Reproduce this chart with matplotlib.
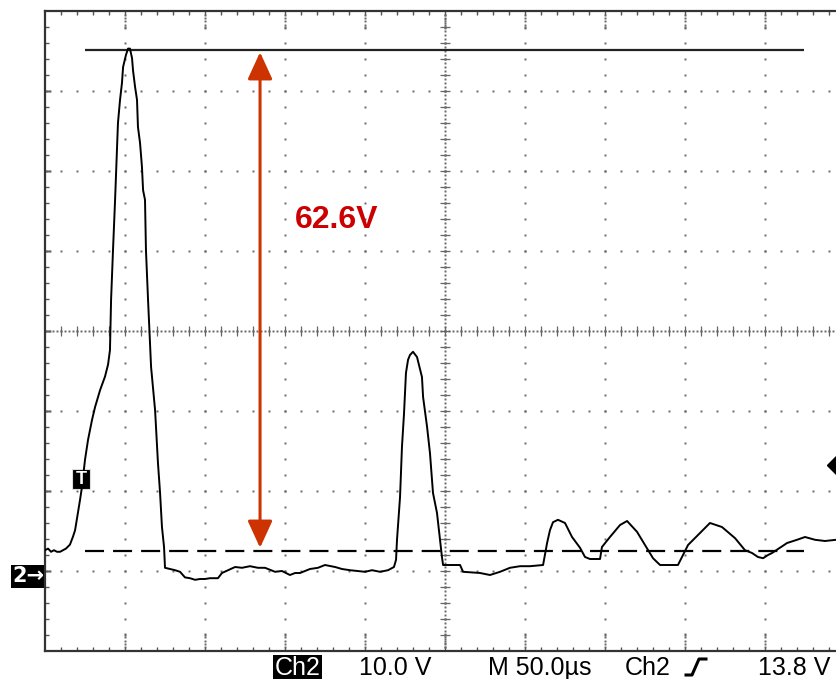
import numpy as np
import matplotlib.pyplot as plt
from matplotlib.patches import Rectangle
from matplotlib.lines import Line2D
from matplotlib.transforms import blended_transform_factory

plt.rcParams['font.family'] = ['Liberation Sans', 'DejaVu Sans']

# Ch2 trace: time (us) and volts (ground = 0 V)
t_us = [0.0, 1.9, 3.8, 5.6, 7.5, 9.4, 11.3, 13.1, 15.6, 17.5, 18.8, 20.6,
        21.9, 23.1, 25.0, 26.9, 29.4, 31.3, 34.4, 37.5, 39.4, 40.6, 41.3,
        42.5, 43.8, 45.0, 45.6, 46.9, 48.1, 48.8, 50.6, 51.9, 53.1, 54.4,
        55.0, 56.3, 57.5, 58.1, 59.4, 60.6, 61.3, 62.5, 63.1, 64.4, 66.3,
        68.8, 70.6, 71.9, 73.1, 74.4, 75.0, 81.3, 84.4, 87.5, 90.6, 93.8,
        96.9, 100.0, 103.1, 108.1, 110.6, 114.4, 118.8, 123.1, 128.1, 133.1,
        137.5, 143.8, 148.1, 153.1, 156.3, 159.4, 165.6, 170.6, 175.0, 181.3,
        185.6, 190.6, 195.6, 200.0, 204.4, 209.4, 214.4, 218.1, 219.4, 220.0,
        221.9, 223.1, 224.4, 225.6, 226.9, 228.1, 230.0, 232.5, 235.6, 236.3,
        238.8, 240.6, 242.5, 245.0, 246.9, 248.1, 248.8, 259.4, 261.3, 271.9,
        278.1, 284.4, 290.6, 296.9, 303.1, 311.3, 313.8, 315.6, 317.5, 320.6,
        325.0, 329.4, 334.4, 337.5, 340.6, 346.9, 348.1, 353.1, 359.4, 363.8,
        370.0, 375.0, 380.0, 384.4, 395.6, 401.9, 409.4, 415.6, 423.1, 431.3,
        437.5, 441.9, 445.6, 448.8, 451.9, 454.4, 463.8, 470.0, 475.0, 481.3,
        487.5, 494.4]
ch2_v = [3.1, 3.3, 2.9, 3.1, 2.9, 2.9, 3.1, 3.3, 3.8, 4.8, 5.6, 7.8,
         9.4, 11.0, 14.4, 16.9, 19.4, 21.0, 23.1, 24.8, 26.3, 28.1, 34.4,
         40.6, 46.9, 53.1, 56.5, 59.4, 61.5, 63.5, 65.0, 65.8, 65.8, 64.6,
         63.1, 61.0, 59.4, 56.0, 54.0, 51.0, 48.1, 46.9, 40.6, 34.4, 26.0,
         20.6, 14.0, 10.3, 6.0, 3.5, 0.9, 0.6, 0.4, -0.3, -0.4, -0.6,
         -0.5, -0.5, -0.4, -0.4, 0.25, 0.6, 1.0, 0.9, 1.1, 0.9,
         0.9, 0.4, 0.5, 0.0, 0.25, 0.25, 0.75, 0.9, 1.25, 1.0,
         0.75, 0.6, 0.5, 0.4, 0.6, 0.4, 0.6, 1.0, 1.9, 4.4,
         9.75, 16.0, 20.25, 25.25, 26.9, 27.5, 27.9, 27.25, 24.75, 22.25,
         18.5, 15.25, 10.25, 7.75, 4.4, 2.25, 1.25, 1.25, 0.4, 0.25,
         0.0, 0.4, 0.9, 1.1, 1.1, 1.25, 4.0, 5.6, 6.6, 6.9,
         6.5, 4.75, 3.4, 2.25, 2.0, 2.0, 3.5, 4.75, 6.25, 6.75,
         5.4, 3.75, 2.1, 1.25, 1.25, 3.75, 5.25, 6.5, 6.0, 4.6,
         3.1, 2.75, 2.25, 2.1, 2.5, 2.75, 4.0, 4.4, 4.75, 4.4,
         4.25, 4.4]

# cursors and readouts
peak_v = 65.6
ref_v = 3.0
cursor_t = (25.0, 474.4)
arrow_t = 134.4
delta_label = "62.6V"
trig_t = 22.5
trig_v = 12.0
trig_level = 13.8
ch_label = "Ch2"
volts_div = "10.0 V"
time_div = "M 50.0\u00b5s"
trig_src = "Ch2"
trig_label = "13.8 V"

W, H = 836, 679
fig = plt.figure(figsize=(W / 100, H / 100), dpi=100)
ax = fig.add_axes([45 / W, 28 / H, 800 / W, 640 / H])
ax.set_xlim(0, 500)
ax.set_ylim(-9.5, 70.5)


def fx(x):
    return x / W


def fy(y):
    return 1 - y / H


# frame
for s in ['left', 'top', 'bottom']:
    ax.spines[s].set_color('#333333')
    ax.spines[s].set_linewidth(1.6)
ax.spines['right'].set_visible(False)
ax.set_xticks(np.arange(10, 500, 10))
ax.set_yticks(np.arange(-7.5, 70, 2))
ax.tick_params(axis='x', direction='in', length=3, width=1, color='#555555',
               top=True, bottom=True, labelbottom=False)
ax.tick_params(axis='y', direction='in', length=3, width=1, color='#555555',
               left=True, right=False, labelleft=False)

# dotted graticule
dot = dict(ls='none', marker='s', ms=1.4, mew=0, color='#666666')
x_div = np.arange(50, 500, 50)
y_div = np.arange(0.5, 70, 10)
y_dots = np.arange(-7.5, 70.5, 2)
x_dots = np.arange(10, 500, 10)
for x in x_div:
    ax.plot(np.full(len(y_dots), x), y_dots, **dot)
    edge = np.concatenate([np.arange(70.0, 68.0, -0.4), np.arange(-9.0, -7.0, 0.4)])
    ax.plot(np.full(len(edge), x), edge, **dot)
for y in y_div:
    ax.plot(x_dots, np.full(len(x_dots), y), **dot)
    edge = np.arange(0.6, 3.5, 0.8)
    ax.plot(edge, np.full(len(edge), y), **dot)

# centre cross: dense dots plus small ticks
yc, xc = 30.5, 250
dense_y = np.arange(-9.5, 70.5, 0.5)
dense_x = np.arange(0, 500, 2.5)
ax.plot(np.full(len(dense_y), xc), dense_y, **dot)
ax.plot(dense_x, np.full(len(dense_x), yc), **dot)
ax.hlines(y_dots, xc - 3.1, xc + 3.1, color='#666666', lw=0.9)
ax.vlines(x_dots, yc - 0.6, yc + 0.6, color='#666666', lw=0.9)

# trace
ax.plot(t_us, ch2_v, color='black', lw=1.4, zorder=5)

# cursors
ax.hlines(peak_v, *cursor_t, color='#222222', lw=1.6, zorder=4)
lw_d = 1.6
ax.plot(cursor_t, [ref_v, ref_v], color='black', lw=lw_d,
        dashes=(13.7 / lw_d, 6.5 / lw_d), zorder=4)

# measurement arrow
ax.annotate('', xy=(arrow_t, peak_v - 0.25), xytext=(arrow_t, ref_v + 0.4),
            arrowprops=dict(arrowstyle='<|-|>,head_length=0.83,head_width=0.38',
                            color='#cc3300', lw=2.2, mutation_scale=20,
                            shrinkA=0, shrinkB=0), zorder=6)
ax.text(arrow_t + 21.5, 43.4, delta_label, color='#cc0000', fontsize=23,
        fontweight='bold', ha='left', va='baseline', zorder=7)

# trigger position marker
ax.add_patch(Rectangle((trig_t - 5.6, trig_v - 1.25), 11.25, 2.5,
                       facecolor='black', edgecolor='#dddddd', lw=0.8, zorder=4))
ax.text(trig_t, trig_v - 0.05, 'T', color='white', fontsize=13,
        fontweight='bold', ha='center', va='center', zorder=6)

# trigger level marker
ax.plot([495], [trig_level], marker='D', ms=10, color='black', clip_on=False,
        zorder=6)

# ground marker
gtr = blended_transform_factory(fig.transFigure, ax.transData)
ax.add_patch(Rectangle((fx(11), -1.6), fx(34), 2.9, transform=gtr,
                       facecolor='black', edgecolor='none', clip_on=False))
ax.text(fx(28), -0.15, '2\u2192', transform=gtr, color='white', fontsize=15,
        fontweight='bold', ha='center', va='center', family=['DejaVu Sans'],
        clip_on=False)

# readout line
fs = 18
base = 675
fig.patches.append(Rectangle((fx(273), fy(679)), fx(49), 24 / H,
                             transform=fig.transFigure, facecolor='black',
                             edgecolor='none'))
fig.text(fx(297.5), fy(base), ch_label, color='white', fontsize=fs,
         ha='center', va='baseline')
fig.text(fx(359), fy(base), volts_div, fontsize=fs, ha='left', va='baseline')
fig.text(fx(488), fy(base), time_div, fontsize=fs, ha='left', va='baseline')
fig.text(fx(625), fy(base), trig_src, fontsize=fs, ha='left', va='baseline')
fig.add_artist(Line2D([fx(686), fx(692), fx(699), fx(706)],
                      [fy(675), fy(675), fy(659), fy(659)],
                      transform=fig.transFigure, color='black', lw=2.2))
fig.text(fx(758), fy(base), trig_label, fontsize=fs, ha='left', va='baseline')

fig.savefig('out.png', dpi=100)
